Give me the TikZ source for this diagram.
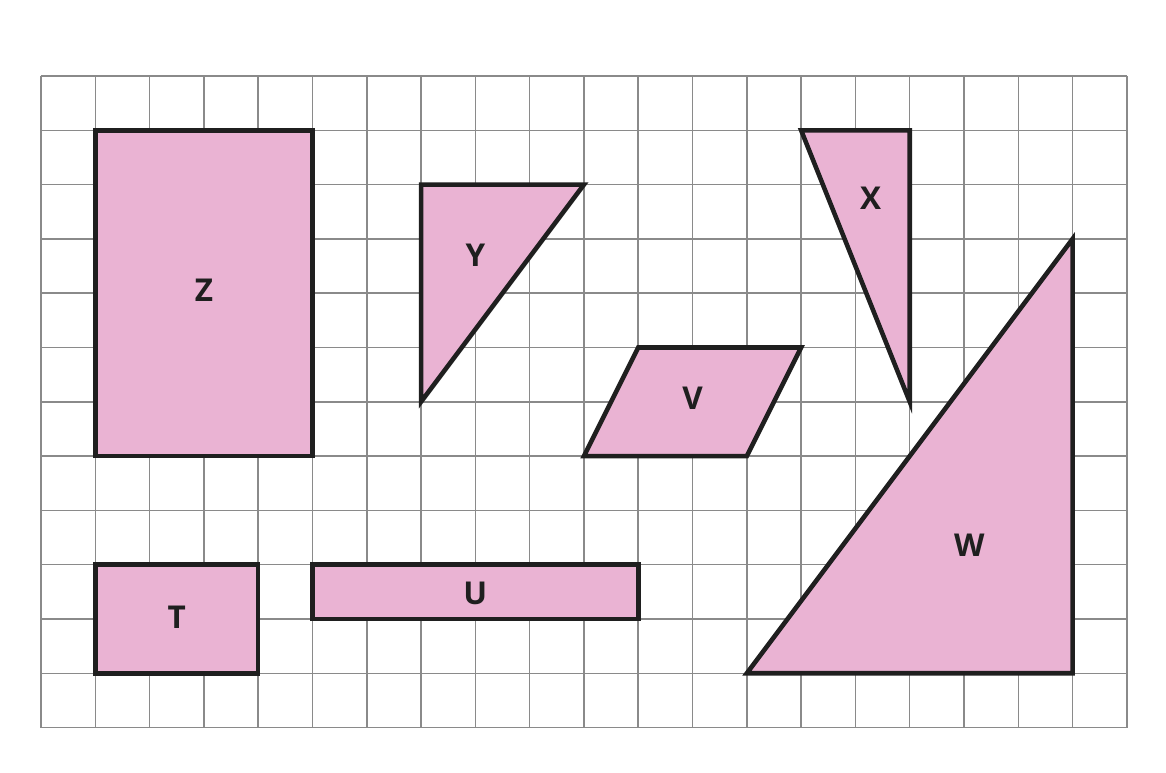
\documentclass[tikz,border=0pt]{standalone}
\usepackage{fontspec}
\setsansfont{Open Sans}
\usepackage{xcolor}
\usepackage{tikz}
\definecolor{shapepink}{HTML}{EAB3D3}
\definecolor{gridgray}{HTML}{8A8A8A}
\tikzset{
  gridline/.style={draw=gridgray, line width=0.8pt},
  shapefill/.style={fill=shapepink, draw=black!88, line width=2.4pt, line join=miter},
  shapelabel/.style={font=\sffamily\bfseries\fontsize{16.5}{18}\selectfont, text=black!88, inner sep=0pt}
}

\begin{document}
\begin{tikzpicture}
  \useasboundingbox (-0.755,-0.83) rectangle (20.72,13.4);
  % grid 20 x 12
  \draw[gridline] (0,0) grid (20,12);

  % shapes
  \draw[shapefill] (1,11) rectangle (5,5);
  \draw[shapefill] (7,10) -- (10,10) -- (7,6) -- cycle;
  \draw[shapefill] (14,11) -- (16,11) -- (16,6) -- cycle;
  \draw[shapefill] (11,7) -- (14,7) -- (13,5) -- (10,5) -- cycle;
  \draw[shapefill] (13,1) -- (19,1) -- (19,9) -- cycle;
  \draw[shapefill] (1,3) rectangle (4,1);
  \draw[shapefill] (5,3) rectangle (11,2);

  % labels
  \node[shapelabel] (lblZ) at (3,8.05) {Z};
  \node[shapelabel] (lblY) at (8,8.7) {Y};
  \node[shapelabel] (lblX) at (15.28,9.75) {X};
  \node[shapelabel] (lblV) at (12,6.07) {V};
  \node[shapelabel] (lblW) at (17.1,3.35) {W};
  \node[shapelabel] (lblT) at (2.5,2.03) {T};
  \node[shapelabel] (lblU) at (8,2.47) {U};
\end{tikzpicture}
\end{document}
